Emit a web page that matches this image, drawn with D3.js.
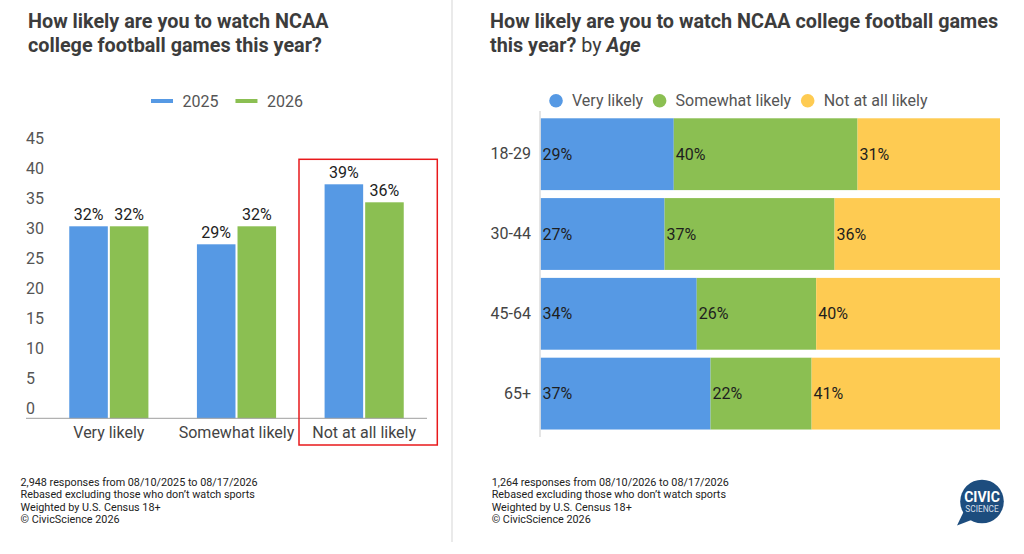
<!DOCTYPE html>
<html>
<head>
<meta charset="utf-8">
<script src="https://cdn.jsdelivr.net/npm/d3@7"></script>
<style>
  html, body { margin: 0; padding: 0; background: #fff; }
  svg { display: block; font-family: Roboto, "Noto Sans", sans-serif; }
</style>
</head>
<body>
<div id="chart"></div>
<script>
// Left chart data (percent of respondents)
const answers = ['Very likely', 'Somewhat likely', 'Not at all likely'];
const years = ['2025', '2026'];
const values2025 = [32, 29, 39];
const values2026 = [32, 32, 36];
const yTicks = [0, 5, 10, 15, 20, 25, 30, 35, 40, 45];

// Right chart data, by age
const ages = ['18-29', '30-44', '45-64', '65+'];
const veryLikely = [29, 27, 34, 37];
const somewhatLikely = [40, 37, 26, 22];
const notAtAll = [31, 36, 40, 41];

const footLeft = [
    '2,948 responses from 08/10/2025 to 08/17/2026',
    'Rebased excluding those who don\u2019t watch sports',
    'Weighted by U.S. Census 18+',
    '\u00a9 CivicScience 2026'
];
const footRight = [
    '1,264 responses from 08/10/2026 to 08/17/2026',
    'Rebased excluding those who don\u2019t watch sports',
    'Weighted by U.S. Census 18+',
    '\u00a9 CivicScience 2026'
];

const BLUE = '#5699e4';
const GREEN = '#8bbf52';
const YELLOW = '#fecb52';
const yearColor = { '2025': BLUE, '2026': GREEN };

const svg = d3.select('#chart')
    .append('svg')
    .attr('width', 1024)
    .attr('height', 554);

svg.append('rect').attr('width', 1024).attr('height', 554).attr('fill', '#fff');

// Divider between the two panels
svg.append('line')
    .attr('x1', 452).attr('x2', 452)
    .attr('y1', 0).attr('y2', 542)
    .attr('stroke', '#e3e3e3').attr('stroke-width', 1.5);

// ---------- Left panel ----------
const left = svg.append('g');

const title1 = left.append('text')
    .attr('x', 28).attr('y', 27.5)
    .attr('font-size', 19.8).attr('font-weight', 700).attr('fill', '#3c3c3c');
title1.append('tspan').attr('x', 28).text('How likely are you to watch NCAA');
title1.append('tspan').attr('x', 28).attr('dy', 24.5).text('college football games this year?');

const yLeft = d3.scaleLinear().domain([0, 45]).range([418.3, 148.3]);
const xLeft = d3.scaleBand().domain(answers).range([45, 428])
    .paddingInner(0.38).paddingOuter(0.19);
const xYear = d3.scaleBand().domain(years).range([0, xLeft.bandwidth()]).paddingInner(0.05);

// y axis labels (sit a little above their value, no gridlines)
const yAxis = left.append('g')
    .attr('transform', 'translate(26,0)')
    .call(d3.axisLeft(yLeft).tickValues(yTicks).tickSize(0).tickPadding(0));
yAxis.select('.domain').remove();
yAxis.selectAll('text')
    .attr('x', 0)
    .attr('dy', '-4.5px')
    .attr('text-anchor', 'start')
    .attr('font-family', 'Roboto, sans-serif')
    .attr('font-size', 16)
    .attr('fill', '#555');

const leftRows = answers.map((a, i) => ({ answer: a, '2025': values2025[i], '2026': values2026[i] }));

const groups = left.append('g')
    .selectAll('g')
    .data(leftRows)
    .join('g')
    .attr('transform', d => `translate(${xLeft(d.answer)},0)`);

groups.selectAll('rect')
    .data(d => years.map(y => ({ year: y, value: d[y] })))
    .join('rect')
    .attr('x', d => xYear(d.year))
    .attr('y', d => yLeft(d.value))
    .attr('width', xYear.bandwidth())
    .attr('height', d => yLeft(0) - yLeft(d.value))
    .attr('fill', d => yearColor[d.year]);

groups.selectAll('text.val')
    .data(d => years.map(y => ({ year: y, value: d[y] })))
    .join('text')
    .attr('class', 'val')
    .attr('x', d => xYear(d.year) + xYear.bandwidth() / 2)
    .attr('y', d => yLeft(d.value) - 6.5)
    .attr('text-anchor', 'middle')
    .attr('font-size', 16)
    .attr('fill', '#222')
    .text(d => d.value + '%');

// baseline
left.append('line')
    .attr('x1', 26).attr('x2', 427)
    .attr('y1', yLeft(0)).attr('y2', yLeft(0))
    .attr('stroke', '#9e9e9e').attr('stroke-width', 1);

const xAxis = left.append('g')
    .attr('transform', `translate(0,${yLeft(0)})`)
    .call(d3.axisBottom(xLeft).tickSize(0).tickPadding(8));
xAxis.select('.domain').remove();
xAxis.selectAll('text')
    .attr('font-family', 'Roboto, sans-serif')
    .attr('font-size', 16)
    .attr('fill', '#444');

// legend
const legL = left.append('g');
let lx = 151;
years.forEach(y => {
    legL.append('line')
        .attr('x1', lx).attr('x2', lx + 22)
        .attr('y1', 101).attr('y2', 101)
        .attr('stroke', yearColor[y]).attr('stroke-width', 4);
    const t = legL.append('text')
        .attr('x', lx + 31.5).attr('y', 107)
        .attr('font-size', 16).attr('fill', '#555')
        .text(y);
    lx += 31.5 + t.node().getComputedTextLength() + 17;
});

// highlight box around "Not at all likely"
left.append('rect')
    .attr('x', 299).attr('y', 159.3)
    .attr('width', 138.3).attr('height', 285.7)
    .attr('fill', 'none')
    .attr('stroke', '#e8191b').attr('stroke-width', 1.5);

function footnote(lines, x) {
    svg.append('g')
        .selectAll('text')
        .data(lines)
        .join('text')
        .attr('x', x)
        .attr('y', (d, i) => 485.5 + i * 12.5)
        .attr('font-size', 10.8).attr('fill', '#222')
        .text(d => d);
}
footnote(footLeft, 20.5);

// ---------- Right panel ----------
const right = svg.append('g');

const title2 = right.append('text')
    .attr('x', 490).attr('y', 27.5)
    .attr('font-size', 19.8).attr('font-weight', 700).attr('fill', '#3c3c3c');
title2.append('tspan').attr('x', 490).text('How likely are you to watch NCAA college football games');
const t2 = title2.append('tspan').attr('x', 490).attr('dy', 24.5);
t2.append('tspan').text('this year? ');
t2.append('tspan').attr('font-weight', 400).text('by ');
t2.append('tspan').attr('font-style', 'italic').text('Age');

const keys = ['Very likely', 'Somewhat likely', 'Not at all likely'];
const keyColor = { 'Very likely': BLUE, 'Somewhat likely': GREEN, 'Not at all likely': YELLOW };
const ageRows = ages.map((a, i) => ({
    age: a,
    'Very likely': veryLikely[i],
    'Somewhat likely': somewhatLikely[i],
    'Not at all likely': notAtAll[i]
}));

const xR = d3.scaleLinear().domain([0, 100]).range([540.5, 1000]);
const yR = d3.scaleBand().domain(ages).range([114.3, 433.5])
    .paddingInner(0.1).paddingOuter(0.05);

const stacked = d3.stack().keys(keys)(ageRows);

const layers = right.append('g')
    .selectAll('g')
    .data(stacked)
    .join('g')
    .attr('fill', d => keyColor[d.key]);

layers.selectAll('rect')
    .data(d => d)
    .join('rect')
    .attr('x', d => xR(d[0]))
    .attr('y', d => yR(d.data.age))
    .attr('width', d => xR(d[1]) - xR(d[0]))
    .attr('height', yR.bandwidth());

layers.selectAll('text')
    .data(d => d.map(s => ({ s: s, key: d.key })))
    .join('text')
    .attr('x', d => xR(d.s[0]) + 2)
    .attr('y', d => yR(d.s.data.age) + yR.bandwidth() / 2)
    .attr('dy', '0.35em')
    .attr('font-size', 16)
    .attr('fill', '#1e1e1e')
    .text(d => d.s.data[d.key] + '%');

// vertical axis line
right.append('line')
    .attr('x1', 540).attr('x2', 540)
    .attr('y1', 111).attr('y2', 437)
    .attr('stroke', '#dcdcdc').attr('stroke-width', 1.5);

const yAxisR = right.append('g')
    .attr('transform', 'translate(531,0)')
    .call(d3.axisLeft(yR).tickSize(0).tickPadding(0));
yAxisR.select('.domain').remove();
yAxisR.selectAll('text')
    .attr('font-family', 'Roboto, sans-serif')
    .attr('font-size', 16)
    .attr('fill', '#444');

// legend
const legR = right.append('g');
let cx = 556;
keys.forEach(k => {
    legR.append('circle')
        .attr('cx', cx).attr('cy', 100.7).attr('r', 6.8)
        .attr('fill', keyColor[k]);
    const t = legR.append('text')
        .attr('x', cx + 16).attr('y', 106.3)
        .attr('font-size', 16).attr('fill', '#555')
        .text(k);
    cx += 16 + t.node().getComputedTextLength() + 16.5;
});

footnote(footRight, 491.7);

// CivicScience logo (speech bubble)
const logo = svg.append('g');
logo.append('path')
    .attr('d', 'M963.5,512 L957,525.5 L974,519 Z')
    .attr('fill', '#1d4d7e');
logo.append('circle')
    .attr('cx', 982).attr('cy', 501.5).attr('r', 21.8)
    .attr('fill', '#1d4d7e');
logo.append('text')
    .attr('x', 982).attr('y', 501.5)
    .attr('text-anchor', 'middle')
    .attr('font-size', 14).attr('font-weight', 700)
    .attr('fill', '#fff')
    .text('CIVIC');
logo.append('text')
    .attr('x', 982).attr('y', 511.5)
    .attr('text-anchor', 'middle')
    .attr('font-size', 8.3)
    .attr('fill', '#d5dfea')
    .text('SCIENCE');
</script>
</body>
</html>
